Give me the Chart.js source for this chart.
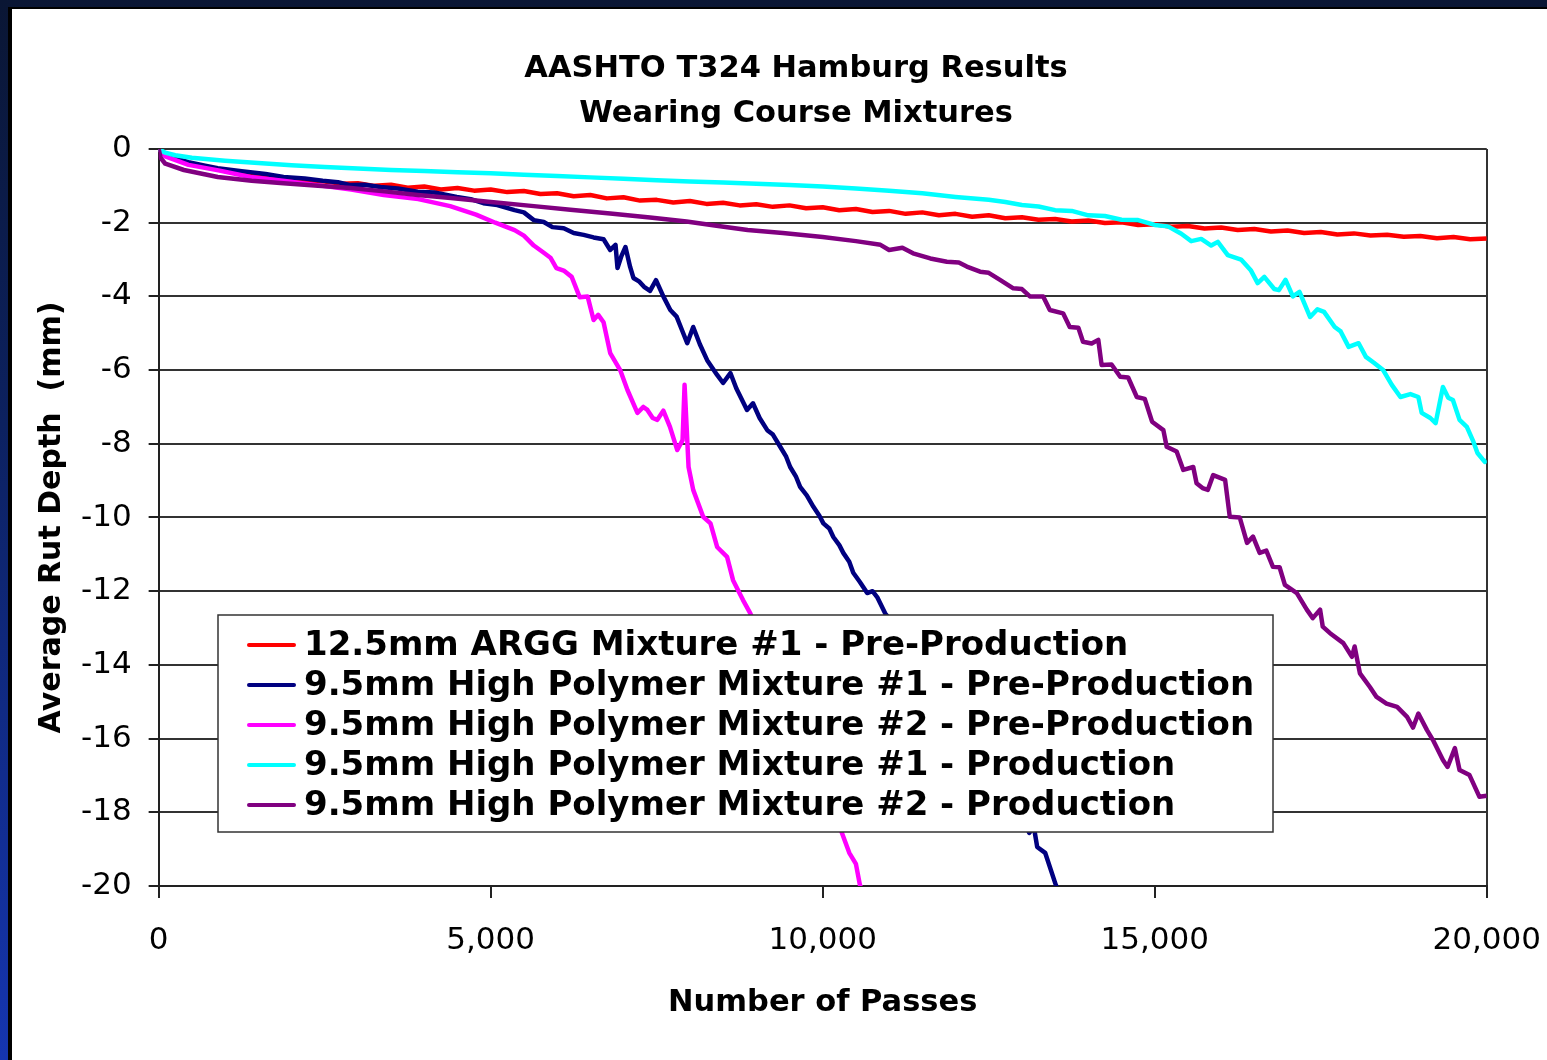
<!DOCTYPE html>
<html>
<head>
<meta charset="utf-8">
<script src="https://cdn.jsdelivr.net/npm/chart.js@4.4.1/dist/chart.umd.min.js"></script>
<style>
html,body{margin:0;padding:0;width:1547px;height:1060px;overflow:hidden;}
body{position:relative;background:linear-gradient(to bottom,#0a1634 0%,#0c2160 40%,#1535b0 100%);}
#panel{position:absolute;left:8px;top:7px;right:0;bottom:0;background:#fff;border-left:4px solid #000;border-top:2px solid #000;}
#c{position:absolute;left:0;top:0;}
</style>
</head>
<body>
<div id="panel"></div>
<canvas id="c" width="1547" height="1060"></canvas>
<script>
// ---------- DATA ----------
const titleLines = ['AASHTO T324 Hamburg Results', 'Wearing Course Mixtures'];
const xAxisTitle = 'Number of Passes';
const yAxisTitle = 'Average Rut Depth  (mm)';
const xTickValues = [0, 5000, 10000, 15000, 20000];
const yTickValues = [0, -2, -4, -6, -8, -10, -12, -14, -16, -18, -20];

const seriesLabels = [
  '12.5mm ARGG Mixture #1 - Pre-Production',
  '9.5mm High Polymer Mixture #1 - Pre-Production',
  '9.5mm High Polymer Mixture #2 - Pre-Production',
  '9.5mm High Polymer Mixture #1 - Production',
  '9.5mm High Polymer Mixture #2 - Production'
];
const seriesColors = ['#FF0000', '#000080', '#FF00FF', '#00FFFF', '#800080'];

// [passes, average rut depth (mm)]
const arggMix1Pre = [[0,0],[100,-0.16],[250,-0.27],[500,-0.42],[750,-0.5],[1000,-0.6],[1250,-0.66],[1500,-0.72],[1750,-0.78],[2000,-0.82],[2250,-0.87],[2500,-0.88],[2750,-0.94],[3000,-0.93],[3250,-1.0],[3500,-0.97],[3750,-1.05],[4000,-1.02],[4250,-1.1],[4500,-1.06],[4750,-1.13],[5000,-1.1],[5250,-1.17],[5500,-1.14],[5750,-1.22],[6000,-1.2],[6250,-1.28],[6500,-1.25],[6750,-1.34],[7000,-1.31],[7250,-1.4],[7500,-1.38],[7750,-1.45],[8000,-1.41],[8250,-1.49],[8500,-1.46],[8750,-1.53],[9000,-1.5],[9250,-1.57],[9500,-1.53],[9750,-1.61],[10000,-1.58],[10250,-1.66],[10500,-1.63],[10750,-1.71],[11000,-1.68],[11250,-1.76],[11500,-1.72],[11750,-1.8],[12000,-1.76],[12250,-1.84],[12500,-1.8],[12750,-1.88],[13000,-1.85],[13250,-1.92],[13500,-1.9],[13750,-1.97],[14000,-1.94],[14250,-2.01],[14500,-1.99],[14750,-2.06],[15000,-2.04],[15250,-2.11],[15500,-2.09],[15750,-2.16],[16000,-2.13],[16250,-2.2],[16500,-2.17],[16750,-2.24],[17000,-2.21],[17250,-2.28],[17500,-2.25],[17750,-2.32],[18000,-2.29],[18250,-2.35],[18500,-2.33],[18750,-2.38],[19000,-2.36],[19250,-2.42],[19500,-2.39],[19750,-2.45],[20000,-2.43]];

const hpMix1Pre = [[0,0],[100,-0.15],[200,-0.22],[450,-0.36],[700,-0.45],[890,-0.52],[1250,-0.6],[1610,-0.68],[1880,-0.76],[2200,-0.8],[2470,-0.86],[2700,-0.9],[2890,-0.98],[3100,-0.97],[3340,-1.03],[3600,-1.07],[3900,-1.16],[4150,-1.18],[4490,-1.3],[4700,-1.36],[4890,-1.47],[5100,-1.52],[5360,-1.66],[5500,-1.72],[5650,-1.93],[5800,-1.98],[5930,-2.12],[6100,-2.15],[6250,-2.28],[6400,-2.33],[6550,-2.4],[6700,-2.45],[6800,-2.74],[6880,-2.6],[6910,-3.23],[6970,-2.9],[7030,-2.66],[7100,-3.2],[7150,-3.5],[7240,-3.6],[7310,-3.74],[7400,-3.85],[7490,-3.56],[7600,-4.0],[7705,-4.37],[7800,-4.55],[7900,-5.0],[7960,-5.27],[8050,-4.83],[8150,-5.3],[8260,-5.73],[8410,-6.13],[8500,-6.35],[8610,-6.08],[8700,-6.5],[8860,-7.08],[8950,-6.9],[9050,-7.3],[9165,-7.63],[9250,-7.75],[9360,-8.08],[9450,-8.35],[9510,-8.63],[9600,-8.9],[9660,-9.17],[9760,-9.4],[9860,-9.71],[9950,-9.95],[10010,-10.16],[10100,-10.3],[10160,-10.53],[10250,-10.75],[10310,-10.96],[10400,-11.2],[10460,-11.5],[10560,-11.75],[10670,-12.05],[10750,-12.0],[10820,-12.16],[10940,-12.6],[11500,-13.9],[12000,-15.2],[12500,-16.7],[13000,-18.1],[13110,-18.56],[13180,-18.4],[13230,-18.94],[13350,-19.1],[13510,-19.97],[13540,-20.1]];

const hpMix2Pre = [[0,0],[100,-0.2],[450,-0.43],[900,-0.58],[1380,-0.76],[1900,-0.87],[2390,-0.98],[2900,-1.1],[3390,-1.25],[3910,-1.36],[4390,-1.55],[4780,-1.78],[5070,-2.0],[5360,-2.2],[5500,-2.35],[5650,-2.62],[5810,-2.83],[5900,-2.95],[5990,-3.23],[6100,-3.3],[6220,-3.47],[6340,-4.02],[6460,-4.0],[6550,-4.64],[6620,-4.5],[6700,-4.7],[6800,-5.54],[6950,-6.0],[7060,-6.54],[7210,-7.16],[7300,-7.0],[7360,-7.08],[7440,-7.3],[7510,-7.35],[7600,-7.1],[7700,-7.54],[7810,-8.17],[7890,-7.9],[7920,-6.4],[7950,-7.5],[7980,-8.63],[8050,-9.25],[8200,-9.98],[8310,-10.16],[8410,-10.8],[8560,-11.07],[8650,-11.7],[8800,-12.24],[8910,-12.6],[9400,-14.6],[9900,-16.9],[10290,-18.56],[10400,-19.1],[10500,-19.4],[10560,-19.97],[10590,-20.1]];

const hpMix1Prod = [[0,0],[100,-0.1],[250,-0.17],[500,-0.24],[1000,-0.32],[1500,-0.38],[2000,-0.44],[2500,-0.49],[3000,-0.53],[3500,-0.57],[4000,-0.6],[4500,-0.63],[5000,-0.66],[5500,-0.7],[6000,-0.73],[6500,-0.77],[7000,-0.81],[7500,-0.85],[8000,-0.88],[8500,-0.91],[9000,-0.94],[9500,-0.98],[10000,-1.02],[10500,-1.07],[11000,-1.13],[11500,-1.2],[12000,-1.3],[12500,-1.38],[12750,-1.44],[13000,-1.52],[13250,-1.56],[13500,-1.66],[13750,-1.68],[14000,-1.8],[14250,-1.82],[14500,-1.92],[14750,-1.93],[15000,-2.06],[15200,-2.1],[15400,-2.3],[15550,-2.5],[15700,-2.44],[15850,-2.62],[15950,-2.52],[16100,-2.88],[16300,-3.0],[16450,-3.3],[16550,-3.64],[16650,-3.47],[16800,-3.8],[16870,-3.83],[16970,-3.55],[17080,-4.0],[17180,-3.88],[17340,-4.56],[17450,-4.35],[17550,-4.42],[17710,-4.83],[17800,-4.95],[17920,-5.37],[18070,-5.27],[18180,-5.64],[18300,-5.8],[18440,-6.0],[18570,-6.4],[18700,-6.73],[18850,-6.65],[18970,-6.73],[19020,-7.16],[19150,-7.3],[19230,-7.44],[19290,-6.9],[19340,-6.46],[19420,-6.75],[19490,-6.81],[19590,-7.35],[19700,-7.54],[19800,-7.95],[19860,-8.25],[19970,-8.49],[20000,-8.45]];

const hpMix2Prod = [[0,0],[30,-0.24],[100,-0.4],[380,-0.57],[890,-0.76],[1400,-0.86],[1880,-0.93],[2400,-1.0],[2890,-1.06],[3400,-1.15],[3900,-1.25],[4400,-1.33],[4890,-1.42],[5650,-1.55],[6200,-1.65],[6800,-1.75],[7400,-1.86],[7950,-1.97],[8400,-2.08],[8870,-2.2],[9400,-2.28],[10000,-2.39],[10500,-2.5],[10870,-2.6],[11000,-2.74],[11200,-2.68],[11360,-2.83],[11620,-2.97],[11870,-3.06],[12050,-3.08],[12170,-3.19],[12370,-3.33],[12500,-3.36],[12670,-3.55],[12870,-3.78],[13000,-3.8],[13120,-4.0],[13320,-4.0],[13420,-4.37],[13620,-4.46],[13720,-4.83],[13850,-4.85],[13920,-5.23],[14050,-5.28],[14150,-5.18],[14200,-5.86],[14350,-5.85],[14480,-6.18],[14600,-6.2],[14730,-6.73],[14850,-6.78],[14960,-7.4],[15130,-7.63],[15180,-8.08],[15330,-8.21],[15430,-8.71],[15580,-8.63],[15630,-9.07],[15720,-9.2],[15800,-9.25],[15880,-8.85],[16060,-8.98],[16130,-9.98],[16280,-10.0],[16390,-10.69],[16480,-10.52],[16580,-10.96],[16680,-10.9],[16780,-11.34],[16880,-11.35],[16960,-11.83],[17140,-12.05],[17290,-12.5],[17380,-12.73],[17490,-12.5],[17530,-12.96],[17640,-13.14],[17840,-13.41],[17970,-13.78],[18010,-13.5],[18090,-14.23],[18240,-14.6],[18340,-14.87],[18490,-15.05],[18650,-15.14],[18800,-15.41],[18890,-15.7],[18970,-15.32],[19100,-15.77],[19190,-16.04],[19340,-16.58],[19410,-16.77],[19520,-16.26],[19590,-16.85],[19740,-16.99],[19890,-17.58],[20000,-17.55]];

const seriesData = [arggMix1Pre, hpMix1Pre, hpMix2Pre, hpMix1Prod, hpMix2Prod];

// ---------- CHART ----------
const FONT = '"DejaVu Sans", "Liberation Sans", sans-serif';
Chart.defaults.font.family = FONT;
Chart.defaults.color = '#000';

const datasets = seriesData.map((pts, i) => ({
  label: seriesLabels[i],
  data: pts.map(p => ({x: p[0], y: p[1]})),
  borderColor: seriesColors[i],
  backgroundColor: seriesColors[i],
  borderWidth: 4.5,
  pointRadius: 0,
  pointHoverRadius: 0,
  fill: false,
  tension: 0,
  borderJoinStyle: 'round',
  order: seriesData.length - 1 - i
}));

const titleDrawer = {
  id: 'titleDrawer',
  afterDraw(chart, args, o) {
    const ctx = chart.ctx;
    ctx.save();
    ctx.fillStyle = '#000';
    ctx.font = 'bold ' + o.size + 'px ' + FONT;
    ctx.textAlign = 'center';
    ctx.textBaseline = 'middle';
    o.lines.forEach((t, i) => ctx.fillText(t, o.x, o.y + i * o.gap));
    ctx.restore();
  }
};

const boxLegend = {
  id: 'boxLegend',
  afterDatasetsDraw(chart, args, o) {
    const ctx = chart.ctx;
    ctx.save();
    ctx.fillStyle = '#fff';
    ctx.fillRect(o.left, o.top, o.width, o.height);
    ctx.strokeStyle = '#333';
    ctx.lineWidth = 1.5;
    ctx.strokeRect(o.left, o.top, o.width, o.height);
    ctx.font = 'bold ' + o.size + 'px ' + FONT;
    ctx.textAlign = 'left';
    ctx.textBaseline = 'middle';
    chart.data.datasets.forEach((ds, i) => {
      const y = o.firstRow + i * o.rowGap;
      ctx.strokeStyle = ds.borderColor;
      ctx.lineWidth = 4;
      ctx.lineCap = 'round';
      ctx.beginPath();
      ctx.moveTo(o.lineX0, y);
      ctx.lineTo(o.lineX1, y);
      ctx.stroke();
      ctx.fillStyle = '#000';
      ctx.fillText(ds.label, o.textX, y + 1);
    });
    ctx.restore();
  }
};

new Chart(document.getElementById('c'), {
  type: 'line',
  data: {datasets},
  plugins: [titleDrawer, boxLegend],
  options: {
    responsive: false,
    animation: false,
    devicePixelRatio: 1,
    locale: 'en-US',
    layout: {padding: {left: 40, right: 60, top: 149, bottom: 0}},
    plugins: {
      legend: {display: false},
      title: {display: false},
      tooltip: {enabled: false},
      titleDrawer: {lines: titleLines, x: 796, y: 69, gap: 45, size: 30.5},
      boxLegend: {left: 218, top: 615, width: 1055, height: 217, firstRow: 645, rowGap: 40,
                  lineX0: 249, lineX1: 294, textX: 304, size: 34}
    },
    scales: {
      x: {
        type: 'linear',
        min: 0, max: 20000,
        afterBuildTicks: s => { s.ticks = xTickValues.map(v => ({value: v})); },
        ticks: {
          autoSkip: false, maxRotation: 0, padding: 6,
          font: {size: 31, lineHeight: 2.355},
          color: '#000',
          callback: v => Number(v).toLocaleString('en-US')
        },
        grid: {
          drawOnChartArea: true,
          color: c => (c.tick && c.tick.value === 20000) ? '#333' : 'rgba(0,0,0,0)',
          lineWidth: 2,
          tickLength: 12,
          tickColor: '#222',
          tickWidth: 2
        },
        border: {display: true, color: '#222', width: 2},
        title: {display: true, text: xAxisTitle, color: '#000',
                font: {size: 30.5, weight: 'bold', lineHeight: 1.2},
                padding: {top: 1.7, bottom: 38.7}}
      },
      y: {
        type: 'linear',
        min: -20, max: 0,
        afterBuildTicks: s => { s.ticks = yTickValues.map(v => ({value: v})); },
        ticks: {
          autoSkip: false, padding: 17,
          font: {size: 31, lineHeight: 1.2},
          color: '#000',
          callback: v => String(v)
        },
        grid: {
          color: '#333',
          lineWidth: 2,
          tickLength: 10,
          tickColor: '#222',
          tickWidth: 2
        },
        border: {display: true, color: '#222', width: 2},
        title: {display: true, text: yAxisTitle, color: '#000',
                font: {size: 30, weight: 'bold', lineHeight: 0.8},
                padding: {top: 0, bottom: 0}}
      }
    }
  }
});
</script>
</body>
</html>
